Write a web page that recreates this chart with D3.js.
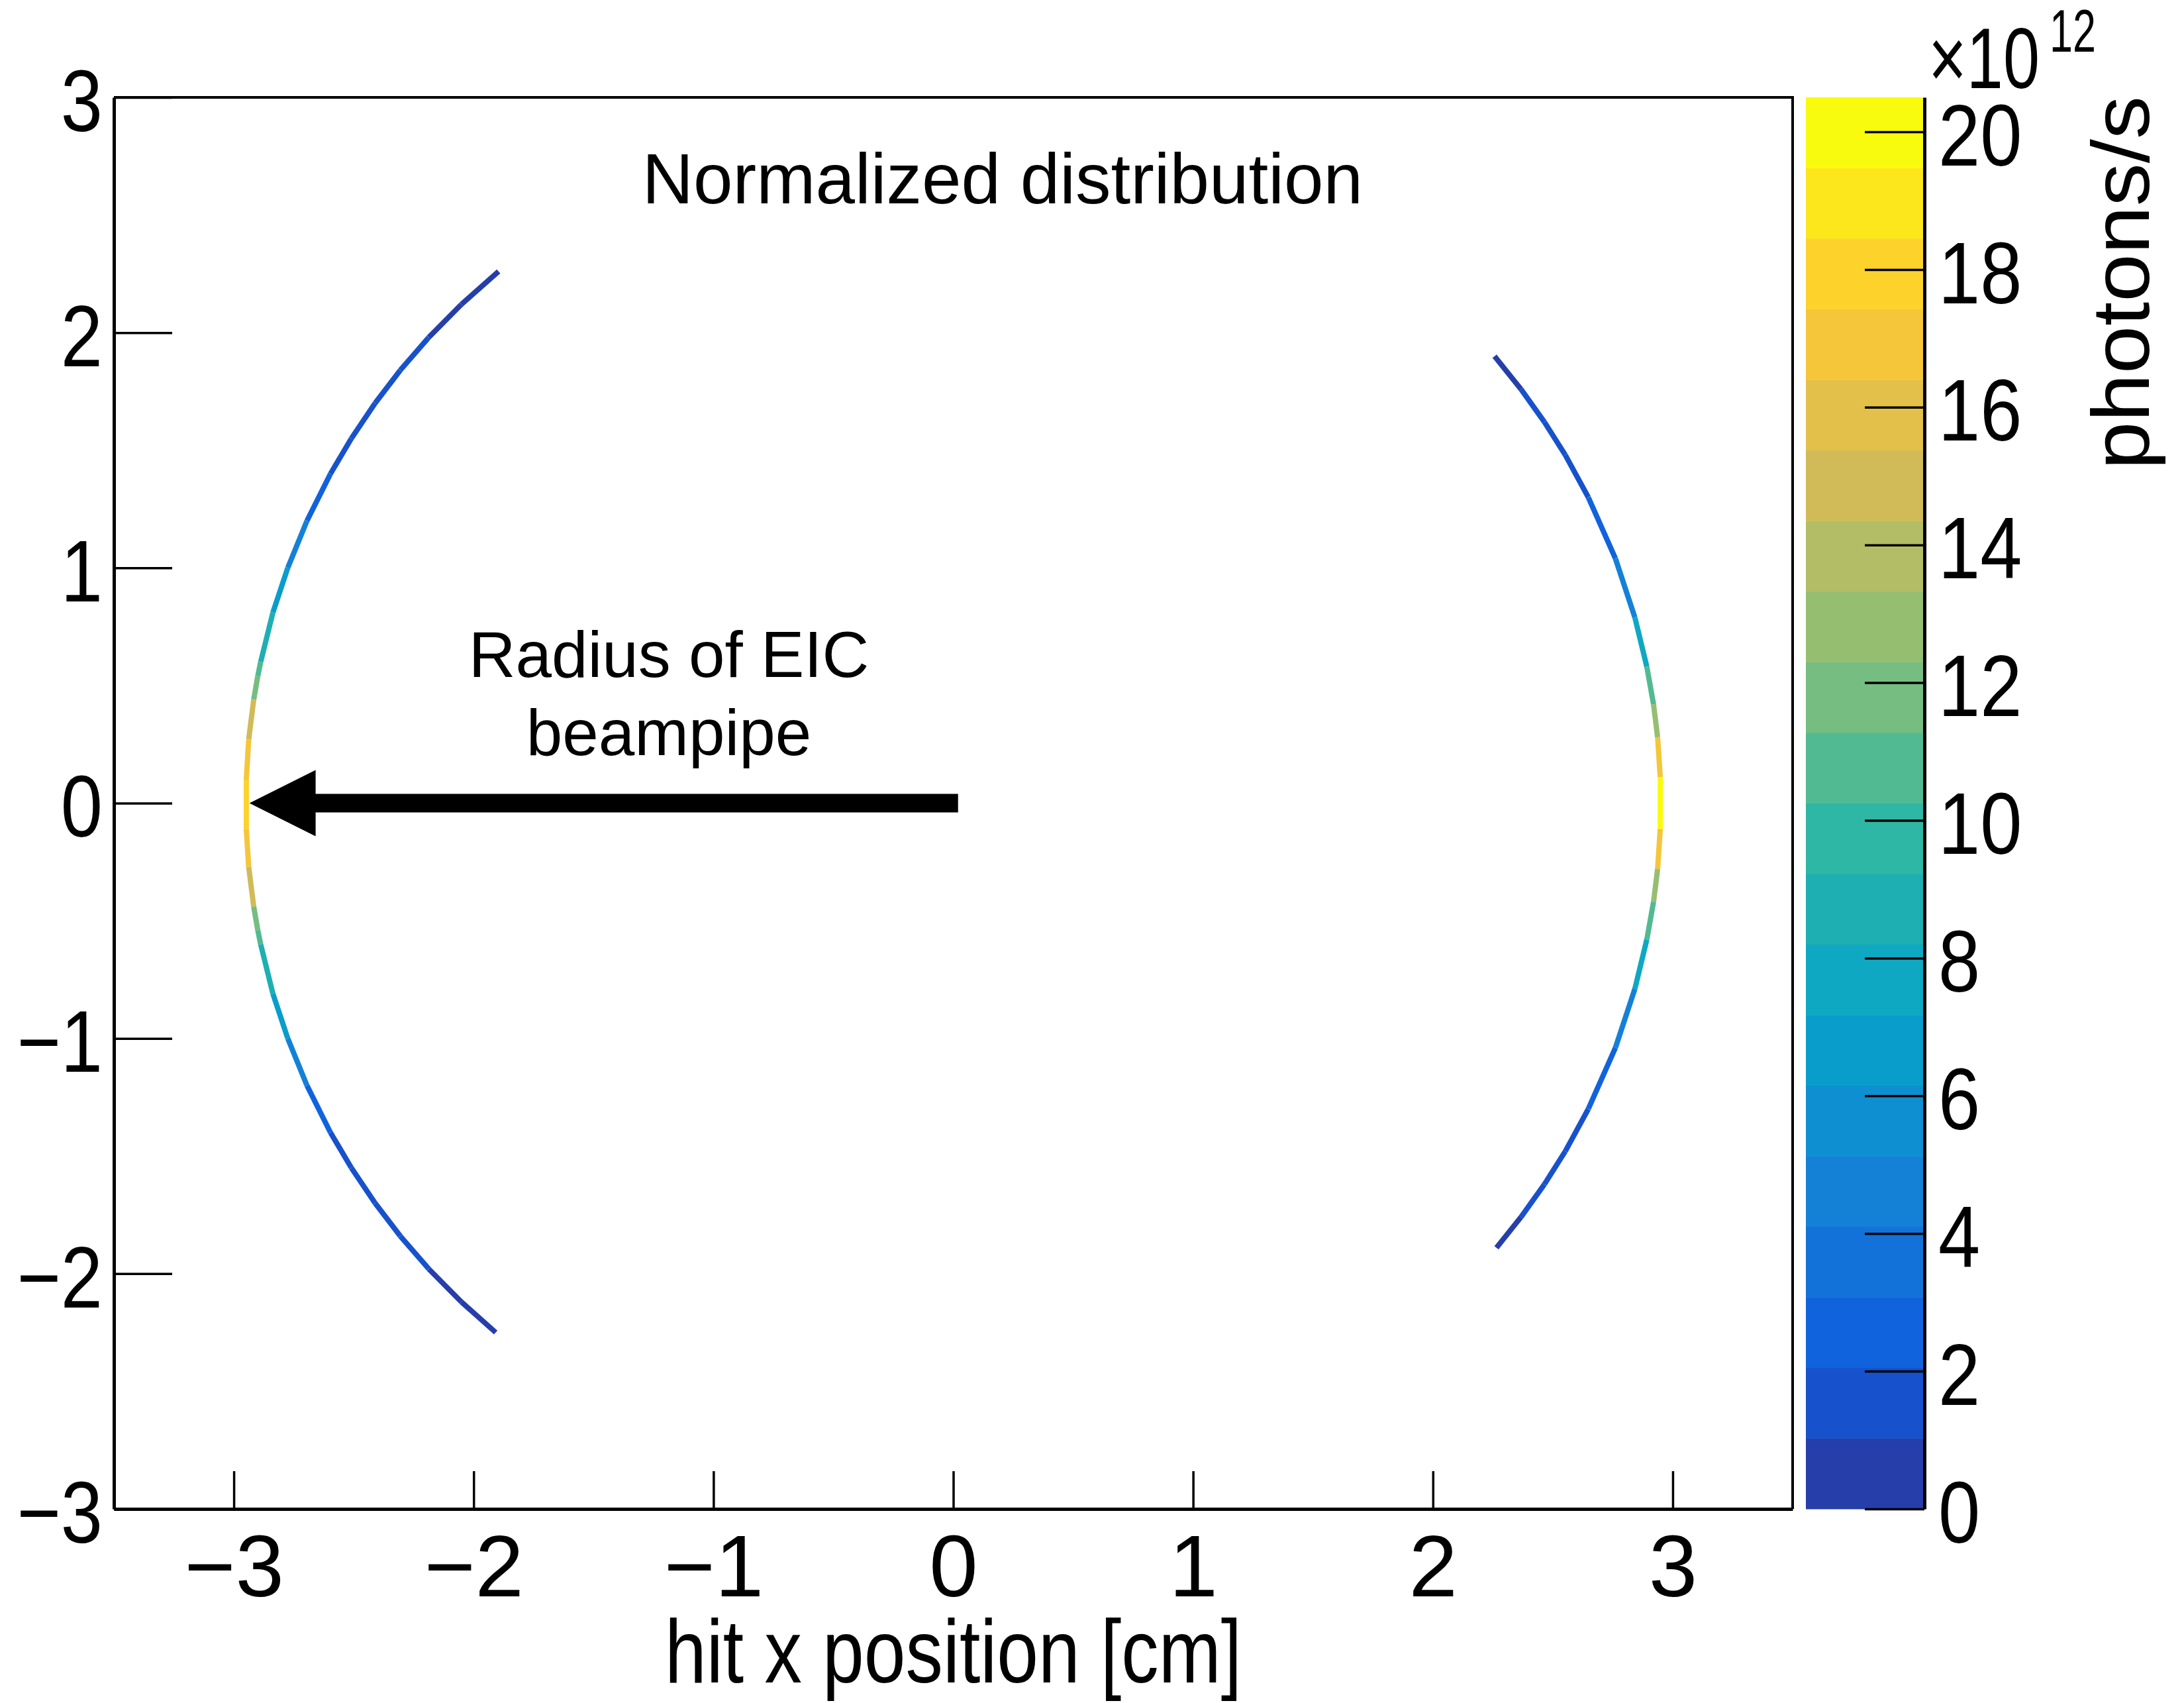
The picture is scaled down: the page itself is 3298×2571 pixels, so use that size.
<!DOCTYPE html>
<html>
<head>
<meta charset="utf-8">
<script src="https://cdn.jsdelivr.net/npm/d3@7"></script>
<style>
  body { margin: 0; background: white; }
  svg text { font-family: "Liberation Sans", Arial, Helvetica, sans-serif; fill: black; }
</style>
</head>
<body>
<svg></svg>
<script>
// axes
const xTicks = [-3, -2, -1, 0, 1, 2, 3]
const yTicks = [-3, -2, -1, 0, 1, 2, 3]
const zTicks = [0, 2, 4, 6, 8, 10, 12, 14, 16, 18, 20]
const xDomain = [-3.5, 3.5]
const yDomain = [-3, 3]
const zDomain = [0, 20.5]
const nContours = 20

// left arc: boundaries along the ring (y, x in cm) and rate of each piece (x1e12 photons/s)
const leftArcY = [2.26, 2.12, 1.98, 1.84, 1.7, 1.55, 1.4, 1.2, 1.0, 0.81, 0.6, 0.54, 0.44, 0.27, 0.1,
  -0.11, -0.27, -0.44, -0.54, -0.6, -0.81, -1.0, -1.2, -1.4, -1.55, -1.7, -1.84, -1.98, -2.12, -2.25]
const leftArcX = [-1.896, -2.051, -2.187, -2.306, -2.411, -2.51, -2.597, -2.695, -2.775, -2.837, -2.888, -2.9, -2.917, -2.938, -2.948,
  -2.948, -2.938, -2.917, -2.9, -2.888, -2.837, -2.775, -2.695, -2.597, -2.51, -2.411, -2.306, -2.187, -2.051, -1.908]
const leftArcZ = [0.8, 0.9, 1.3, 1.5, 1.6, 1.8, 2.4, 4.2, 6.5, 9.0, 10.5, 12.0, 14.5, 16.5,
  17.5, 16.5, 14.5, 12.0, 10.5, 9.0, 6.5, 4.2, 2.4, 1.8, 1.6, 1.5, 1.3, 0.9, 0.8]

// right arc
const rightArcY = [1.9, 1.76, 1.62, 1.48, 1.3, 1.04, 0.79, 0.58, 0.42, 0.28, 0.11,
  -0.11, -0.28, -0.42, -0.58, -0.79, -1.04, -1.3, -1.48, -1.62, -1.76, -1.89]
const rightArcX = [2.257, 2.367, 2.465, 2.552, 2.648, 2.761, 2.842, 2.892, 2.92, 2.937, 2.948,
  2.948, 2.937, 2.92, 2.892, 2.842, 2.761, 2.648, 2.552, 2.465, 2.367, 2.265]
const rightArcZ = [0.8, 1.3, 1.6, 1.8, 2.6, 4.6, 7.2, 10.5, 13.0, 17.0,
  20.0, 17.0, 13.0, 10.5, 7.2, 4.6, 2.6, 1.8, 1.6, 1.3, 0.8]

// annotation arrow, from / to in cm
const arrowFrom = [0.02, 0]
const arrowTo = [-2.935, 0]

const titleText = "Normalized distribution"
const noteLines = ["Radius of EIC", "beampipe"]
const xTitle = "hit x position [cm]"
const zTitle = "photons/s"

// ROOT kBird palette
const birdR = [0.2082, 0.0592, 0.078, 0.0232, 0.1802, 0.5301, 0.8186, 0.9956, 0.9764]
const birdG = [0.1664, 0.3599, 0.5041, 0.6419, 0.7178, 0.7492, 0.7328, 0.7862, 0.9832]
const birdB = [0.5293, 0.8684, 0.8385, 0.7914, 0.6425, 0.4662, 0.3499, 0.1968, 0.0539]

const svg = d3.select("svg")
const w = 3298
const h = 2571
const frame = { left: 172, right: 2707, top: 147, bottom: 2278 }
const bar = { left: 2727, right: 2906 }
const minus = (d) => d3.format("d")(d).replace("-", "\u2212")

const xScale = d3.scaleLinear().domain(xDomain).range([frame.left, frame.right])
const yScale = d3.scaleLinear().domain(yDomain).range([frame.bottom, frame.top])
const zScale = d3.scaleLinear().domain(zDomain).range([frame.bottom, frame.top])

const bird = d3
  .scaleLinear()
  .domain(d3.range(9).map((i) => i / 8))
  .range(birdR.map((r, i) => d3.rgb(r * 255, birdG[i] * 255, birdB[i] * 255)))
  .interpolate(d3.interpolateRgb)

const bandOf = (z) =>
  Math.max(0, Math.min(nContours - 1, Math.floor((z / zDomain[1]) * nContours)))
const zColor = (z) => bird((bandOf(z) + 1) / nContours)

svg.attr("width", w).attr("height", h).style("background-color", "white")

// arcs
const drawArc = (ys, xs, zs) => {
  const segs = zs.map((z, i) => ({
    x1: xScale(xs[i]),
    y1: yScale(ys[i]),
    x2: xScale(xs[i + 1]),
    y2: yScale(ys[i + 1]),
    z,
  }))
  svg
    .append("g")
    .selectAll("line")
    .data(segs)
    .enter()
    .append("line")
    .attr("x1", (d) => d.x1)
    .attr("y1", (d) => d.y1)
    .attr("x2", (d) => d.x2)
    .attr("y2", (d) => d.y2)
    .attr("stroke", (d) => zColor(d.z))
    .attr("stroke-width", 8)
    .attr("stroke-linecap", "butt")
}
drawArc(leftArcY, leftArcX, leftArcZ)
drawArc(rightArcY, rightArcX, rightArcZ)

// axes
const xAxis = d3
  .axisBottom(xScale)
  .tickValues(xTicks)
  .tickFormat(minus)
  .tickSizeInner(-57)
  .tickSizeOuter(0)
  .tickPadding(38)
const yAxis = d3
  .axisLeft(yScale)
  .tickValues(yTicks)
  .tickFormat(minus)
  .tickSizeInner(-88)
  .tickSizeOuter(0)
  .tickPadding(17)

const styleAxis = (g) => {
  g.attr("font-size", 132).attr("font-family", null)
  g.select(".domain").attr("stroke", "black").attr("stroke-width", 5)
  g.selectAll(".tick line").attr("stroke", "black").attr("stroke-width", 3.5)
  g.selectAll(".tick text").attr("fill", "black")
}

// the y and z labels are a little narrower than the font
const squeeze = (sel, k) =>
  sel.each(function () {
    const len = this.getComputedTextLength()
    d3.select(this).attr("textLength", len * k).attr("lengthAdjust", "spacingAndGlyphs")
  })

svg
  .append("g")
  .attr("id", "x-axis")
  .attr("transform", `translate(0,${frame.bottom})`)
  .call(xAxis)
  .call(styleAxis)
svg
  .append("g")
  .attr("id", "y-axis")
  .attr("transform", `translate(${frame.left},0)`)
  .call(yAxis)
  .call(styleAxis)
  .selectAll(".tick text")
  .attr("dy", "0.38em")
  .call(squeeze, 0.86)

// top and right frame lines
svg
  .append("path")
  .attr("d", `M${frame.left},${frame.top}H${frame.right}V${frame.bottom}`)
  .attr("fill", "none")
  .attr("stroke", "black")
  .attr("stroke-width", 4)

// colour bar
const bands = d3.range(nContours).map((i) => ({
  lo: (i * zDomain[1]) / nContours,
  hi: ((i + 1) * zDomain[1]) / nContours,
}))
svg
  .append("g")
  .selectAll("rect")
  .data(bands)
  .enter()
  .append("rect")
  .attr("x", bar.left)
  .attr("width", bar.right - bar.left)
  .attr("y", (d) => zScale(d.hi))
  .attr("height", (d) => zScale(d.lo) - zScale(d.hi) + 0.5)
  .attr("fill", (d) => zColor((d.lo + d.hi) / 2))

const zAxis = d3
  .axisRight(zScale)
  .tickValues(zTicks)
  .tickFormat(d3.format("d"))
  .tickSizeInner(-90)
  .tickSizeOuter(0)
  .tickPadding(21)
svg
  .append("g")
  .attr("id", "z-axis")
  .attr("transform", `translate(${bar.right},0)`)
  .call(zAxis)
  .call(styleAxis)
  .selectAll(".tick text")
  .attr("dy", "0.38em")
  .call(squeeze, 0.86)

// exponent
svg
  .append("text")
  .attr("x", 2912)
  .attr("y", 133)
  .attr("font-size", 130)
  .attr("textLength", 168)
  .attr("lengthAdjust", "spacingAndGlyphs")
  .text("\u00d710")
svg
  .append("text")
  .attr("x", 3095)
  .attr("y", 78)
  .attr("font-size", 90)
  .attr("textLength", 70)
  .attr("lengthAdjust", "spacingAndGlyphs")
  .text("12")

// titles
svg
  .append("text")
  .attr("x", xScale(0))
  .attr("y", 2540)
  .attr("text-anchor", "middle")
  .attr("font-size", 136)
  .attr("textLength", 871)
  .attr("lengthAdjust", "spacingAndGlyphs")
  .text(xTitle)
svg
  .append("text")
  .attr("transform", `translate(3245,${frame.top - 2}) rotate(-90)`)
  .attr("text-anchor", "end")
  .attr("font-size", 122)
  .attr("textLength", 564)
  .attr("lengthAdjust", "spacingAndGlyphs")
  .text(zTitle)

svg
  .append("text")
  .attr("x", 1514)
  .attr("y", 307)
  .attr("text-anchor", "middle")
  .attr("font-size", 107)
  .text(titleText)

svg
  .append("g")
  .selectAll("text")
  .data(noteLines)
  .enter()
  .append("text")
  .attr("x", 1010)
  .attr("y", (d, i) => 1022 + i * 118)
  .attr("text-anchor", "middle")
  .attr("font-size", 98)
  .text((d) => d)

// arrow
const ax0 = xScale(arrowFrom[0])
const ax1 = xScale(arrowTo[0])
const ay = yScale(arrowTo[1])
const headLen = 100
const headHalf = 50
const shaftHalf = 14
svg
  .append("path")
  .attr(
    "d",
    `M${ax1},${ay}L${ax1 + headLen},${ay - headHalf}V${ay - shaftHalf}H${ax0}V${ay + shaftHalf}H${ax1 + headLen}V${ay + headHalf}Z`
  )
  .attr("fill", "black")
</script>
</body>
</html>
